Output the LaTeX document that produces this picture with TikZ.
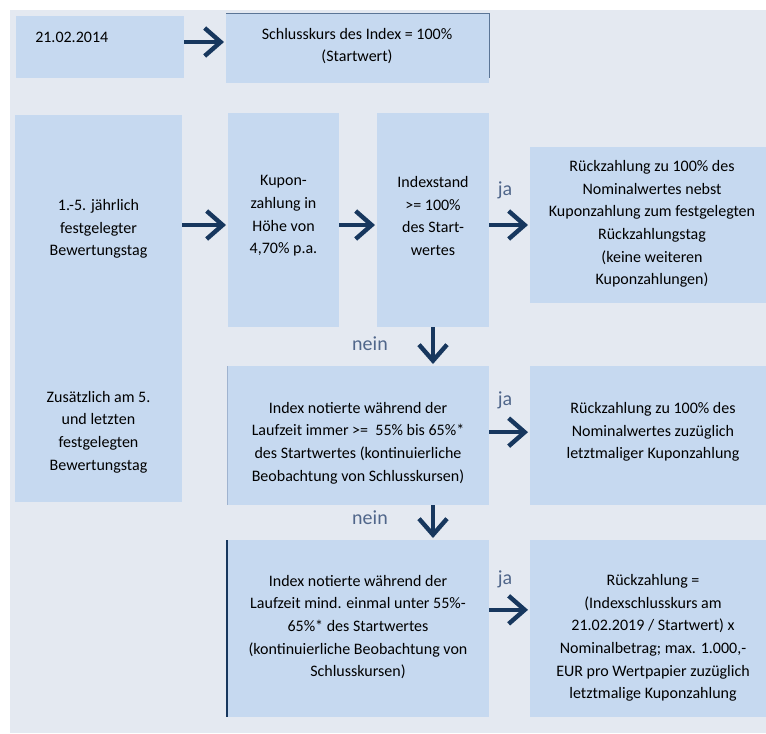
\documentclass[tikz,border=0pt]{standalone}
\usepackage{fontspec}
\setmainfont{Carlito}
\usetikzlibrary{arrows.meta,fit,calc}
\definecolor{bgc}{HTML}{E4E9F1}
\definecolor{boxc}{HTML}{C6D9F0}
\definecolor{navy}{HTML}{17375E}
\definecolor{lblc}{HTML}{50668A}
\definecolor{edgec}{HTML}{5B7596}
\definecolor{gedge}{HTML}{9FB3CF}
\begin{document}
\begin{tikzpicture}[x=0.75pt,y=-0.75pt,
  box/.style={fill=boxc, draw=none, inner sep=0pt, outer sep=0pt},
  txt/.style={align=center, font=\fontsize{12}{17}\selectfont, inner sep=0pt},
  lbl/.style={font=\fontsize{15}{16}\selectfont, text=lblc, inner sep=0pt},
  arr/.style={draw=navy, line width=3.3pt, -{Straight Barb[length=12pt,width=21pt]}, shorten >=1.5pt}]
\useasboundingbox (0,0) rectangle (766,733);
\fill[bgc] (10,10) rectangle (766,733);
% boxes
\node[box, fit={(16,16) (184,78)}] (A) {};
\node[box, fit={(226,13) (489,83)}] (B) {};
\node[box, fit={(15,115) (182,502)}] (C) {};
\node[box, fit={(228,113) (339,327)}] (D) {};
\node[box, fit={(377,113) (489,327)}] (E) {};
\node[box, fit={(530,147) (766,303)}] (F) {};
\node[box, fit={(227,366) (489,505)}] (G) {};
\node[box, fit={(530,366) (766,505)}] (H) {};
\node[box, fit={(227,540) (489,717)}] (I) {};
\node[box, fit={(530,540) (766,717)}] (J) {};
% edge artefacts
\draw[edgec, line width=0.75pt] (B.north west) -- (B.north east) -- ($(B.north east)!0.93!(B.south east)$);
\draw[gedge, line width=0.75pt] (G.north west) -- (G.south west);
\draw[navy, line width=1.5pt] (I.north west) -- (I.south west);
% texts
\node[txt, anchor=west] (tA) at (35,37) {21.02.2014};
\node[txt] (tB) at (357,46) {Schlusskurs des Index = 100\%\\(Startwert)};
\node[txt] (tC1) at (98.5,229) {1.-5. jährlich\\festgelegter\\Bewertungstag};
\node[txt] (tC2) at (98.5,432) {Zusätzlich am 5.\\und letzten\\festgelegten\\Bewertungstag};
\node[txt] (tD) at (283.5,216) {Kupon-\\zahlung in\\Höhe von\\4,70\% p.a.};
\node[txt] (tE) at (433,216) {Indexstand\\>= 100\%\\des Start-\\wertes};
\node[txt] (tF) at (652,224) {Rückzahlung zu 100\% des\\Nominalwertes nebst\\Kuponzahlung zum festgelegten\\Rückzahlungstag\\(keine weiteren\\Kuponzahlungen)};
\node[txt] (tG) at (358,443) {Index notierte während der\\Laufzeit immer >=\ \ 55\% bis 65\%*\\des Startwertes (kontinuierliche\\Beobachtung von Schlusskursen)};
\node[txt] (tH) at (653,432) {Rückzahlung zu 100\% des\\Nominalwertes zuzüglich\\letztmaliger Kuponzahlung};
\node[txt] (tI) at (358,627) {Index notierte während der\\Laufzeit mind. einmal unter 55\%-\\65\%* des Startwertes\\(kontinuierliche Beobachtung von\\Schlusskursen)};
\node[txt] (tJ) at (653,638) {Rückzahlung =\\(Indexschlusskurs am\\21.02.2019 / Startwert) x\\Nominalbetrag; max. 1.000,-\\EUR pro Wertpapier zuzüglich\\letztmalige Kuponzahlung};
% labels
\node[lbl] (ja1) at (505,190) {ja};
\node[lbl] (ja2) at (505,400) {ja};
\node[lbl] (ja3) at (505,579) {ja};
\node[lbl] (nein1) at (370,344) {nein};
\node[lbl] (nein2) at (370,518) {nein};
% arrows
\draw[arr, transform canvas={yshift=3.75pt}] (A.east) -- (A.east -| B.west);
\draw[arr] (C.east |- F.west) -- (D.west |- F.west);
\draw[arr] (D.east |- F.west) -- (E.west |- F.west);
\draw[arr] (E.east |- F.west) -- (F.west);
\draw[arr, transform canvas={yshift=2.5pt}] (G.east) -- (H.west);
\draw[arr, transform canvas={yshift=14pt}] (I.east) -- (J.west);
\draw[arr] (E.south) -- (E.south |- G.north);
\draw[arr] (G.south -| E.south) -- (I.north -| E.south);
\end{tikzpicture}
\end{document}
